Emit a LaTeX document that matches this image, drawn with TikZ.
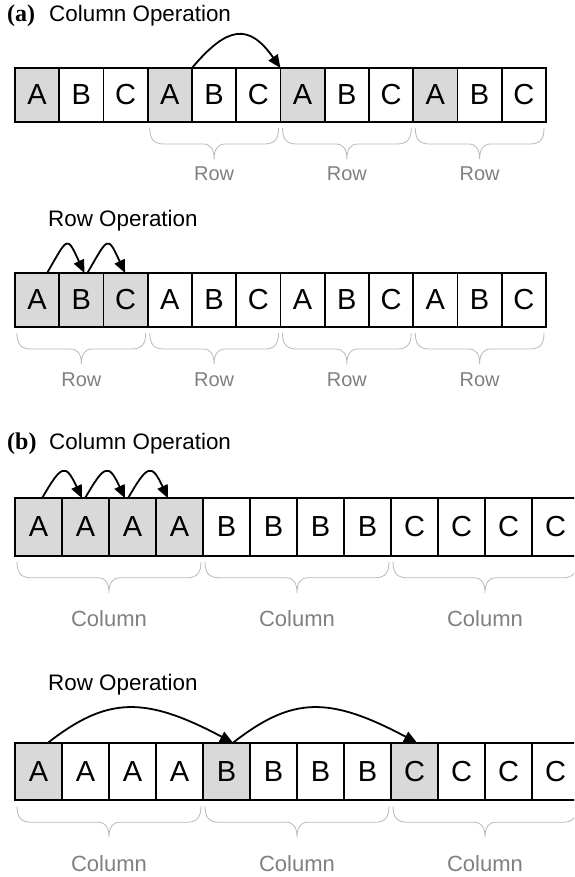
\documentclass[tikz,border=0pt]{standalone}
\usepackage{fontspec}
\setmainfont{Liberation Sans}
\newfontfamily\serifbold{Liberation Serif}
\usetikzlibrary{arrows.meta,calc}
\definecolor{cellgray}{HTML}{D9D9D9}
\definecolor{bracegray}{HTML}{B8B8B8}
\definecolor{labelgray}{HTML}{808080}

\newcommand{\cellbrace}[4]{%
  \coordinate (bl) at ($(#1.south west)+(2,-6)$);
  \coordinate (br) at ($(#2.south east)+(-2,-6)$);
  \coordinate (bm) at ($(bl)!.5!(br)$);
  \draw[grpbrace] (bl) .. controls ($(bl)+(0,-11)$) and ($(bl)+(4,-16)$) .. ($(bl)+(14,-16)$)
    -- ($(bm)+(-11,-16)$) .. controls ($(bm)+(-3,-16)$) and ($(bm)+(0,-22)$) .. ($(bm)+(0,-31)$)
    .. controls ($(bm)+(0,-22)$) and ($(bm)+(3,-16)$) .. ($(bm)+(11,-16)$)
    -- ($(br)+(-14,-16)$) .. controls ($(br)+(-4,-16)$) and ($(br)+(0,-11)$) .. (br);
  \node[#4] (#1lbl) at (bm) {#3};
}

\begin{document}
\begin{tikzpicture}[x=1pt,y=1pt,
    cell/.style={draw,line width=1.8pt,minimum width=44.25pt,minimum height=54pt,
      inner sep=0pt,outer sep=0pt,font=\fontsize{29}{29}\selectfont},
    wide/.style={minimum width=47pt,minimum height=57.5pt},
    hit/.style={fill=cellgray},
    title/.style={anchor=base west,inner sep=0pt,font=\fontsize{22.4}{24}\selectfont},
    tag/.style={anchor=base west,inner sep=0pt,font=\serifbold\bfseries\fontsize{24}{24}\selectfont},
    grpbrace/.style={draw=bracegray,line width=0.8pt},
    grplabel/.style={anchor=base,inner sep=0pt,text=labelgray},
    rowname/.style={grplabel,yshift=-53pt,font=\fontsize{20}{20}\selectfont},
    colname/.style={grplabel,yshift=-65pt,font=\fontsize{22}{22}\selectfont},
    hop/.style={-{Triangle[length=13pt,width=11pt]},line width=1.8pt}]
    \useasboundingbox (0,0) rectangle (574,-877);
    \clip (0,0) rectangle (574,-877);

    \node[tag] (tagA) at (7,-22) {(a)};
    \node[title] (opA1) at (49,-22) {Column Operation};
    \node[title] (opA2) at (48,-226) {Row Operation};
    \node[tag] (tagB) at (7,-449) {(b)};
    \node[title] (opB1) at (49,-449) {Column Operation};
    \node[title] (opB2) at (48,-690) {Row Operation};

    \node[cell,hit] (a1) at (37.1,-95) {A};
    \node[cell] (a2) at (81.4,-95) {B};
    \node[cell] (a3) at (125.6,-95) {C};
    \node[cell,hit] (a4) at (169.9,-95) {A};
    \node[cell] (a5) at (214.1,-95) {B};
    \node[cell] (a6) at (258.4,-95) {C};
    \node[cell,hit] (a7) at (302.6,-95) {A};
    \node[cell] (a8) at (346.9,-95) {B};
    \node[cell] (a9) at (391.1,-95) {C};
    \node[cell,hit] (a10) at (435.4,-95) {A};
    \node[cell] (a11) at (479.6,-95) {B};
    \node[cell] (a12) at (523.9,-95) {C};

    \node[cell,hit] (b1) at (37.1,-300) {A};
    \node[cell,hit] (b2) at (81.4,-300) {B};
    \node[cell,hit] (b3) at (125.6,-300) {C};
    \node[cell] (b4) at (169.9,-300) {A};
    \node[cell] (b5) at (214.1,-300) {B};
    \node[cell] (b6) at (258.4,-300) {C};
    \node[cell] (b7) at (302.6,-300) {A};
    \node[cell] (b8) at (346.9,-300) {B};
    \node[cell] (b9) at (391.1,-300) {C};
    \node[cell] (b10) at (435.4,-300) {A};
    \node[cell] (b11) at (479.6,-300) {B};
    \node[cell] (b12) at (523.9,-300) {C};

    \node[cell,wide,hit] (c1) at (38.5,-527) {A};
    \node[cell,wide,hit] (c2) at (85.5,-527) {A};
    \node[cell,wide,hit] (c3) at (132.5,-527) {A};
    \node[cell,wide,hit] (c4) at (179.5,-527) {A};
    \node[cell,wide] (c5) at (226.5,-527) {B};
    \node[cell,wide] (c6) at (273.5,-527) {B};
    \node[cell,wide] (c7) at (320.5,-527) {B};
    \node[cell,wide] (c8) at (367.5,-527) {B};
    \node[cell,wide] (c9) at (414.5,-527) {C};
    \node[cell,wide] (c10) at (461.5,-527) {C};
    \node[cell,wide] (c11) at (508.5,-527) {C};
    \node[cell,wide] (c12) at (555.5,-527) {C};

    \node[cell,wide,hit] (d1) at (38.5,-771.5) {A};
    \node[cell,wide] (d2) at (85.5,-771.5) {A};
    \node[cell,wide] (d3) at (132.5,-771.5) {A};
    \node[cell,wide] (d4) at (179.5,-771.5) {A};
    \node[cell,wide,hit] (d5) at (226.5,-771.5) {B};
    \node[cell,wide] (d6) at (273.5,-771.5) {B};
    \node[cell,wide] (d7) at (320.5,-771.5) {B};
    \node[cell,wide] (d8) at (367.5,-771.5) {B};
    \node[cell,wide,hit] (d9) at (414.5,-771.5) {C};
    \node[cell,wide] (d10) at (461.5,-771.5) {C};
    \node[cell,wide] (d11) at (508.5,-771.5) {C};
    \node[cell,wide] (d12) at (555.5,-771.5) {C};

    \draw[hop] (a5.north west) to[out=50,in=125,distance=55pt] (a7.north west);

    \draw[hop] ([xshift=10pt]b1.north) to[out=60,in=115,distance=42pt] ([xshift=3pt]b2.north);
    \draw[hop] ([xshift=6pt]b2.north) to[out=60,in=115,distance=42pt] ([xshift=-0.5pt]b3.north);

    \draw[hop] ([xshift=3.5pt]c1.north) to[out=60,in=115,distance=39pt] ([xshift=-3.5pt]c2.north);
    \draw[hop] ([xshift=-0.5pt]c2.north) to[out=60,in=115,distance=39pt] ([xshift=-7.5pt]c3.north);
    \draw[hop] ([xshift=-4.5pt]c3.north) to[out=60,in=115,distance=39pt] ([xshift=-11.5pt]c4.north);

    \draw[hop] ([xshift=9.5pt]d1.north) to[out=38,in=152,out distance=75pt,in distance=100pt] ([xshift=6.5pt]d5.north);
    \draw[hop] ([xshift=6.5pt]d5.north) to[out=38,in=152,out distance=75pt,in distance=100pt] ([xshift=2.5pt]d9.north);

    \cellbrace{a4}{a6}{Row}{rowname}
    \cellbrace{a7}{a9}{Row}{rowname}
    \cellbrace{a10}{a12}{Row}{rowname}

    \cellbrace{b1}{b3}{Row}{rowname}
    \cellbrace{b4}{b6}{Row}{rowname}
    \cellbrace{b7}{b9}{Row}{rowname}
    \cellbrace{b10}{b12}{Row}{rowname}

    \cellbrace{c1}{c4}{Column}{colname}
    \cellbrace{c5}{c8}{Column}{colname}
    \cellbrace{c9}{c12}{Column}{colname}

    \cellbrace{d1}{d4}{Column}{colname}
    \cellbrace{d5}{d8}{Column}{colname}
    \cellbrace{d9}{d12}{Column}{colname}
\end{tikzpicture}
\end{document}
